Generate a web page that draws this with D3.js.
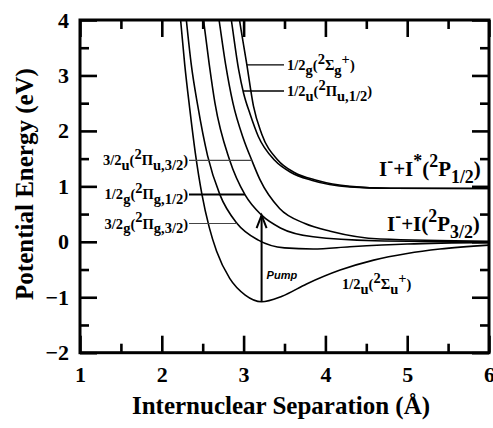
<!DOCTYPE html>
<html>
<head>
<meta charset="utf-8">
<script src="https://cdn.jsdelivr.net/npm/d3@7"></script>
<style>
  body { margin: 0; background: #fff; }
  svg text { font-family: "Liberation Serif", "Times New Roman", serif; font-weight: bold; fill: #000; }
</style>
</head>
<body>
<div id="chart"></div>
<script>
// Potential energy curves, [R (Å), E (eV)]
var groundSigmaU = [[2.19,4.6],[2.23,4.0],[2.28,3.2],[2.34,2.42],[2.41,1.6],[2.49,0.86],[2.58,0.26],[2.67,-0.17],[2.83,-0.66],
  [3.02,-0.96],[3.22,-1.08],[3.47,-0.98],[3.77,-0.76],[4.18,-0.51],[4.59,-0.33],[5.0,-0.21],[5.4,-0.13],[6.0,-0.06]];
var piG32 = [[2.26,4.6],[2.30,4.0],[2.36,3.2],[2.44,2.45],[2.56,1.55],[2.71,0.85],[2.92,0.33],[3.18,0.03],
  [3.50,-0.11],[3.85,-0.13],[4.3,-0.09],[5.0,-0.04],[6.0,-0.01]];
var piG12 = [[2.46,4.6],[2.51,4.0],[2.58,3.2],[2.65,2.5],[2.83,1.47],[3.02,0.84],[3.22,0.48],[3.45,0.25],
  [3.85,0.09],[4.6,0.02],[6.0,0.0]];
var piU32 = [[2.64,4.6],[2.70,4.0],[2.78,3.2],[2.87,2.5],[3.0,1.85],[3.10,1.47],[3.20,1.12],[3.44,0.6],
  [3.75,0.33],[4.06,0.19],[4.67,0.05],[6.0,0.01]];
var piU12 = [[2.79,4.6],[2.85,4.0],[2.94,3.1],[3.0,2.68],[3.08,2.3],[3.18,1.9],[3.38,1.47],[3.58,1.25],
  [3.83,1.11],[4.3,0.99],[4.8,0.965],[6.0,0.96]];
var sigmaG = [[2.89,4.6],[2.95,4.0],[3.04,3.19],[3.12,2.45],[3.22,1.95],[3.42,1.47],[3.62,1.25],[3.89,1.11],
  [4.3,1.0],[4.8,0.965],[6.0,0.96]];

var xTicks = [1, 2, 3, 4, 5, 6];
var yTicks = [-2, -1, 0, 1, 2, 3, 4];
var xMinor = [1.5, 2.5, 3.5, 4.5, 5.5];
var yMinor = [-1.5, -0.5, 0.5, 1.5, 2.5, 3.5];

var W = 493, H = 428;
var plotL = 80, plotR = 489, plotT = 20, plotB = 352.7;

var svg = d3.select("#chart").append("svg").attr("width", W).attr("height", H);

var x = d3.scaleLinear().domain([1, 6]).range([plotL, plotR]);
var y = d3.scaleLinear().domain([-2, 4]).range([plotB, plotT]);

svg.append("clipPath").attr("id", "plot")
  .append("rect").attr("x", plotL).attr("y", plotT).attr("width", plotR - plotL).attr("height", plotB - plotT);

// axes, ticks pointing inward on all four sides
function axisGroup(axis, tx, ty) {
  var g = svg.append("g").attr("transform", "translate(" + tx + "," + ty + ")").call(axis)
    .attr("font-family", null).attr("font-size", null);
  g.select(".domain").remove();
  g.selectAll("line").attr("stroke", "#000").attr("stroke-width", 2.6);
  g.selectAll("text").style("font-size", "22px").attr("fill", "#000");
  return g;
}
axisGroup(d3.axisBottom(x).tickValues(xTicks).tickFormat(d3.format("d")).tickSizeInner(-17).tickSizeOuter(0).tickPadding(14), 0, plotB);
axisGroup(d3.axisBottom(x).tickValues(xMinor).tickFormat("").tickSizeInner(-9).tickSizeOuter(0), 0, plotB);
axisGroup(d3.axisTop(x).tickValues(xTicks).tickFormat("").tickSizeInner(-17).tickSizeOuter(0), 0, plotT);
axisGroup(d3.axisTop(x).tickValues(xMinor).tickFormat("").tickSizeInner(-9).tickSizeOuter(0), 0, plotT);
axisGroup(d3.axisLeft(y).tickValues(yTicks).tickFormat(d3.format("d")).tickSizeInner(-17).tickSizeOuter(0).tickPadding(11), plotL, 0);
axisGroup(d3.axisLeft(y).tickValues(yMinor).tickFormat("").tickSizeInner(-9).tickSizeOuter(0), plotL, 0);
axisGroup(d3.axisRight(y).tickValues(yTicks).tickFormat("").tickSizeInner(-17).tickSizeOuter(0), plotR, 0);
axisGroup(d3.axisRight(y).tickValues(yMinor).tickFormat("").tickSizeInner(-9).tickSizeOuter(0), plotR, 0);

svg.append("rect").attr("x", plotL).attr("y", plotT).attr("width", plotR - plotL).attr("height", plotB - plotT)
  .attr("fill", "none").attr("stroke", "#000").attr("stroke-width", 3);

// curves
var line = d3.line().x(function(d){ return x(d[0]); }).y(function(d){ return y(d[1]); }).curve(d3.curveMonotoneX);
var curves = [groundSigmaU, piG32, piG12, piU32, piU12, sigmaG];
svg.append("g").attr("clip-path", "url(#plot)")
  .selectAll("path").data(curves).enter().append("path")
  .attr("d", line).attr("fill", "none").attr("stroke", "#000").attr("stroke-width", 1.6);

// R where a curve reaches energy e (first crossing, linear between points)
function crossR(c, e) {
  for (var i = 0; i < c.length - 1; i++) {
    var a = c[i], b = c[i+1];
    if ((a[1] - e) * (b[1] - e) <= 0) return a[0] + (e - a[1]) * (b[0] - a[0]) / (b[1] - a[1]);
  }
  return c[c.length-1][0];
}
function energyAt(c, r) {
  for (var i = 0; i < c.length - 1; i++) {
    var a = c[i], b = c[i+1];
    if (r >= a[0] && r <= b[0]) return a[1] + (r - a[0]) * (b[1] - a[1]) / (b[0] - a[0]);
  }
  return c[c.length-1][1];
}

// text with sub/superscripts: parts = [[text, "n"|"sub"|"sup"], ...]
function richText(px, py, parts, size, anchor, shrink) {
  var t = svg.append("text").attr("x", px).attr("y", py).attr("text-anchor", anchor || "start")
    .style("font-size", size + "px");
  var cur = 0;
  parts.forEach(function(p) {
    var off = p[1] === "sub" ? size * 0.33 : p[1] === "sup" ? -size * 0.42 : 0;
    var s = t.append("tspan").attr("dy", off - cur).text(p[0]);
    if (p[1] !== "n" && shrink) s.style("font-size", (size * shrink) + "px");
    cur = off;
  });
  return t;
}

function connector(x1, x2, yy, w, col) {
  svg.append("line").attr("x1", x1).attr("x2", x2).attr("y1", yy).attr("y2", yy)
    .attr("stroke", col).attr("stroke-width", w);
}

// upper-right state labels
var eSg = 3.19, eU12 = 2.72;
connector(x(crossR(sigmaG, eSg)), 284, y(eSg), 1.3, "#000");
richText(287, y(eSg) + 5, [["1/2","n"],["g","sub"],["(","n"],["2","sup"],["Σ","n"],["g","sub"],["+","sup"],[")","n"]], 14.5);
connector(x(crossR(piU12, eU12)), 284, y(eU12), 1.3, "#000");
richText(287, y(eU12) + 5, [["1/2","n"],["u","sub"],["(","n"],["2","sup"],["Π","n"],["u,1/2","sub"],[")","n"]], 14.5);

// left state labels
var eU32 = 1.47, eG12 = 0.855, eG32 = 0.33;
connector(189, x(crossR(piU32, eU32)), y(eU32), 1.2, "#444");
richText(188, y(eU32) + 5, [["3/2","n"],["u","sub"],["(","n"],["2","sup"],["Π","n"],["u,3/2","sub"],[")","n"]], 14.5, "end");
connector(189, x(crossR(piG12, eG12)), y(eG12), 2, "#000");
richText(188, y(eG12) + 5, [["1/2","n"],["g","sub"],["(","n"],["2","sup"],["Π","n"],["g,1/2","sub"],[")","n"]], 14.5, "end");
connector(189, x(crossR(piG32, eG32)), y(eG32), 1.2, "#444");
richText(188, y(eG32) + 5, [["3/2","n"],["g","sub"],["(","n"],["2","sup"],["Π","n"],["g,3/2","sub"],[")","n"]], 14.5, "end");

// ground state label
richText(342, 289, [["1/2","n"],["u","sub"],["(","n"],["2","sup"],["Σ","n"],["u","sub"],["+","sup"],[")","n"]], 14.5);

// asymptote labels
richText(379, 176, [["I","n"],["-","sup"],["+I","n"],["*","sup"],["(","n"],["2","sup"],["P","n"],["1/2","sub"],[")","n"]], 21, "start", 0.85);
richText(387, 231, [["I","n"],["-","sup"],["+I(","n"],["2","sup"],["P","n"],["3/2","sub"],[")","n"]], 21, "start", 0.85);

// pump arrow from the ground-state minimum
var rMin = groundSigmaU.reduce(function(a, b){ return b[1] < a[1] ? b : a; });
var x0 = x(rMin[0]), yFrom = y(rMin[1]), yTo = y(energyAt(piG12, rMin[0]));
svg.append("line").attr("x1", x0).attr("x2", x0).attr("y1", yFrom).attr("y2", yTo + 1)
  .attr("stroke", "#000").attr("stroke-width", 2);
svg.append("path").attr("d", "M" + (x0 - 5) + "," + (yTo + 13) + "L" + x0 + "," + yTo + "L" + (x0 + 5) + "," + (yTo + 13))
  .attr("fill", "none").attr("stroke", "#000").attr("stroke-width", 2);
svg.append("text").attr("x", x0 + 5).attr("y", 279)
  .style("font-family", "Arial, 'Liberation Sans', sans-serif").style("font-style", "italic")
  .style("font-size", "11px").text("Pump");

// axis titles
svg.append("text").attr("transform", "translate(33,184) rotate(-90)").attr("text-anchor", "middle")
  .style("font-size", "25px").text("Potential Energy (eV)");
svg.append("text").attr("x", 281).attr("y", 414).attr("text-anchor", "middle")
  .style("font-size", "25px").text("Internuclear Separation (Å)");
</script>
</body>
</html>
